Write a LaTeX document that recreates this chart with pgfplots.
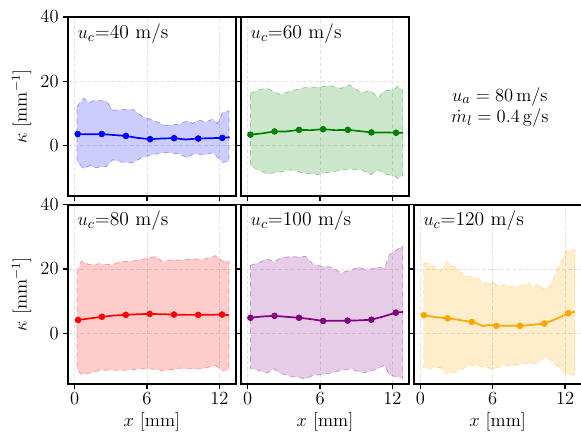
\documentclass[border=0pt]{standalone}
\usepackage{pgfplots}
\pgfplotsset{compat=1.18}

\definecolor{mplgreen}{rgb}{0,0.5,0}
\definecolor{mplpurple}{rgb}{0.5,0,0.5}
\definecolor{mplorange}{rgb}{1,0.647,0}

\pgfplotsset{
  panel/.style={
    width=108.7pt, height=116.1pt, scale only axis, anchor=south west,
    xmin=-0.55, xmax=13.36, ymin=-15.7, ymax=40,
    xtick={0,6,12}, ytick={0,20,40},
    tick align=outside, tick pos=left, major tick length=3.4pt,
    every tick/.style={black, line width=0.9pt},
    axis line style={line width=1.2pt},
    grid=major,
    grid style={dash pattern=on 2.5pt off 1.5pt, gray!22, line width=0.5pt},
    tick label style={font=\fontsize{12}{14}\selectfont},
    xticklabel style={inner sep=2pt},
    yticklabel style={inner sep=2.5pt},
    label style={font=\fontsize{12}{14}\selectfont},
  },
  notx/.style={xticklabels={}},
  noty/.style={yticklabels={}},
  withylabel/.style={ylabel={$\kappa$ [mm$^{-1}$]}},
  withxlabel/.style={xlabel={$x$ [mm]}},
  band/.style={fill=#1, fill opacity=0.2, draw=#1, draw opacity=0.35, dashed, line width=0.5pt},
  meanline/.style={#1, line width=1.1pt, no marks},
  meanmarks/.style={#1, only marks, mark=*, mark size=1.9pt},
}

\newcommand{\plabel}[1]{\node[anchor=base west, font=\fontsize{12.7}{15}\selectfont, inner sep=0pt] at (rel axis cs:0,1) [xshift=6.0pt, yshift=-13.8pt] {#1};}

\begin{document}
\begin{tikzpicture}
\useasboundingbox (0,0) rectangle (376.6pt,287.1pt);

% u_c = 40
\begin{axis}[panel, notx, withylabel, at={(44.1pt,160.0pt)}]
\addplot[band=blue] coordinates {
(0.19,12.1) (0.74,14.7) (1.24,13.4) (1.65,14.1) (2.62,13.9) (3.17,11.0) (4.00,11.2) (4.82,11.3) (5.65,9.0) (6.47,7.9) (7.58,6.2) (8.68,6.7) (9.37,7.7) (9.78,6.9) (10.33,7.9) (10.88,7.4) (11.43,8.2) (11.85,6.9) (12.26,10.3) (12.81,10.8)
(12.81,-4.9) (12.26,-5.2) (11.85,-3.6) (11.43,-2.2) (10.88,-2.8) (10.33,-2.7) (9.78,-2.6) (9.37,-3.8) (8.68,-2.6) (7.58,-2.1) (6.47,-2.8) (5.65,-3.6) (4.82,-5.3) (4.00,-5.2) (3.17,-4.4) (2.62,-6.5) (1.65,-6.9) (1.24,-6.2) (0.74,-7.2) (0.19,-4.8)
} -- cycle;
\addplot[meanline=blue] coordinates {(0.2,3.6) (1.2,3.5) (2.25,3.6) (3.2,3.3) (4.25,3.0) (5.2,2.4) (6.25,2.0) (7.2,2.2) (8.25,2.3) (9.2,1.9) (10.25,2.2) (11.2,2.3) (12.25,2.4) (12.85,2.6)};
\addplot[meanmarks=blue] coordinates {(0.25,3.6) (2.25,3.6) (4.25,3.0) (6.25,2.0) (8.25,2.3) (10.25,2.2) (12.25,2.4)};
\plabel{$u_c$=40 m/s}
\end{axis}

% u_c = 60
\begin{axis}[panel, notx, noty, at={(156.3pt,160.0pt)}]
\addplot[band=mplgreen] coordinates {
(0.22,16.2) (0.92,17.5) (1.61,17.8) (2.72,15.8) (3.56,17.0) (4.67,18.0) (5.78,18.2) (6.89,18.6) (7.72,17.8) (8.42,18.9) (9.39,16.5) (10.22,17.0) (10.83,14.9) (11.33,17.0) (12.17,17.5) (12.44,18.6) (12.86,17.0)
(12.86,-9.3) (12.44,-10.3) (12.17,-9.5) (11.33,-8.8) (10.83,-7.5) (10.22,-9.0) (9.39,-7.5) (8.42,-7.3) (7.72,-7.7) (6.89,-8.2) (5.78,-9.0) (4.67,-8.6) (3.56,-7.5) (2.72,-8.2) (1.61,-8.8) (0.92,-7.7) (0.22,-6.2)
} -- cycle;
\addplot[meanline=mplgreen] coordinates {(0.22,3.4) (1.2,3.8) (2.22,4.4) (3.2,4.4) (4.25,4.9) (5.2,4.8) (6.25,5.1) (7.3,4.8) (8.3,4.9) (9.3,4.5) (10.25,4.1) (11.3,4.1) (12.3,4.0) (12.86,4.0)};
\addplot[meanmarks=mplgreen] coordinates {(0.22,3.4) (2.22,4.4) (4.25,4.9) (6.25,5.1) (8.3,4.9) (10.25,4.1) (12.3,4.0)};
\plabel{$u_c$=60 m/s}
\end{axis}

% u_c = 80
\begin{axis}[panel, withylabel, withxlabel, at={(44.1pt,38.4pt)}]
\addplot[band=red] coordinates {
(0.19,18.8) (0.55,22.4) (1.24,21.3) (2.07,21.6) (3.17,21.3) (3.72,22.2) (4.82,22.4) (5.37,22.9) (5.92,23.2) (6.75,23.9) (7.30,22.2) (8.13,22.9) (8.68,22.7) (9.78,23.1) (10.61,22.9) (11.71,24.1) (12.26,22.4) (12.81,22.4)
(12.81,-11.3) (12.26,-11.6) (11.71,-10.1) (10.61,-11.0) (9.78,-11.1) (8.68,-10.9) (8.13,-11.3) (7.30,-11.6) (6.75,-11.3) (5.92,-10.9) (5.37,-11.1) (4.82,-11.3) (3.72,-11.6) (3.17,-11.4) (2.07,-11.6) (1.24,-12.4) (0.55,-12.8) (0.19,-11.1)
} -- cycle;
\addplot[meanline=red] coordinates {(0.2,4.1) (1.25,4.6) (2.26,5.1) (3.25,5.5) (4.24,5.7) (5.25,5.9) (6.23,6.0) (7.25,5.9) (8.24,5.8) (9.25,5.7) (10.25,5.7) (11.25,5.75) (12.23,5.8) (12.81,5.6)};
\addplot[meanmarks=red] coordinates {(0.28,4.1) (2.26,5.1) (4.24,5.7) (6.23,6.0) (8.24,5.8) (10.25,5.7) (12.23,5.8)};
\plabel{$u_c$=80 m/s}
\end{axis}

% u_c = 100
\begin{axis}[panel, noty, withxlabel, at={(156.3pt,38.4pt)}]
\addplot[band=mplpurple] coordinates {
(0.22,21.1) (0.92,21.9) (1.61,23.2) (2.17,22.2) (2.72,23.4) (3.56,23.9) (4.11,23.7) (4.81,23.9) (5.36,21.6) (6.06,20.8) (6.89,20.6) (7.72,18.8) (8.56,19.6) (9.25,20.6) (9.81,19.6) (10.78,20.6) (11.33,20.1) (11.75,24.4) (12.86,27.2)
(12.86,-14.0) (11.75,-13.0) (11.33,-10.0) (10.78,-11.0) (9.81,-12.2) (9.25,-12.1) (8.56,-11.1) (7.72,-11.6) (6.89,-12.4) (6.06,-12.9) (5.36,-13.2) (4.81,-14.2) (4.11,-13.7) (3.56,-13.4) (2.72,-12.5) (2.17,-11.1) (1.61,-12.4) (0.92,-11.6) (0.22,-10.9)
} -- cycle;
\addplot[meanline=mplpurple] coordinates {(0.22,4.8) (1.2,5.2) (2.22,5.4) (3.2,5.1) (4.25,4.8) (5.2,4.4) (6.25,3.8) (7.25,3.9) (8.28,3.9) (9.25,4.0) (10.25,4.2) (11.25,5.2) (12.28,6.4) (12.86,6.6)};
\addplot[meanmarks=mplpurple] coordinates {(0.22,4.8) (2.22,5.4) (4.25,4.8) (6.25,3.8) (8.28,3.9) (10.25,4.2) (12.28,6.4)};
\plabel{$u_c$=100 m/s}
\end{axis}

% u_c = 120
\begin{axis}[panel, noty, withxlabel, at={(268.2pt,38.4pt)}]
\addplot[band=mplorange] coordinates {
(0.28,21.6) (0.69,21.9) (1.65,19.3) (2.20,22.1) (2.75,20.8) (3.58,18.2) (4.13,17.5) (4.68,17.2) (5.37,15.5) (6.06,15.9) (6.47,14.6) (6.89,15.1) (7.71,14.4) (8.54,14.8) (8.95,15.7) (9.37,14.1) (9.78,15.5) (10.19,13.6) (10.74,14.6) (11.29,19.3) (12.12,25.8) (12.81,26.0)
(12.81,-13.0) (12.12,-12.8) (11.29,-10.0) (10.74,-8.0) (10.19,-7.5) (9.78,-9.2) (9.37,-9.6) (8.95,-9.3) (8.54,-9.4) (7.71,-10.1) (6.89,-9.9) (6.47,-10.6) (6.06,-11.3) (5.37,-10.5) (4.68,-10.1) (4.13,-9.9) (3.58,-10.9) (2.75,-12.2) (2.20,-12.7) (1.65,-10.6) (0.69,-11.0) (0.28,-10.9)
} -- cycle;
\addplot[meanline=mplorange] coordinates {(0.28,5.6) (1.25,5.0) (2.26,4.6) (3.25,4.1) (4.27,3.5) (4.7,3.0) (5.2,2.2) (5.6,2.6) (6.3,2.3) (7.3,2.3) (8.26,2.3) (9.3,2.6) (10.28,3.0) (11.3,4.5) (12.26,6.2) (12.81,6.7)};
\addplot[meanmarks=mplorange] coordinates {(0.28,5.6) (2.26,4.6) (4.27,3.5) (6.3,2.3) (8.26,2.3) (10.28,3.0) (12.26,6.2)};
\plabel{$u_c$=120 m/s}
\end{axis}

\node[anchor=base, font=\fontsize{12.7}{15}\selectfont, inner sep=0pt] at (324.0pt,221.6pt) {$u_a=80\,\mathrm{m/s}$};
\node[anchor=base, font=\fontsize{12.7}{15}\selectfont, inner sep=0pt] at (324.0pt,207.8pt) {$\dot{m}_l=0.4\,\mathrm{g/s}$};
\end{tikzpicture}
\end{document}
